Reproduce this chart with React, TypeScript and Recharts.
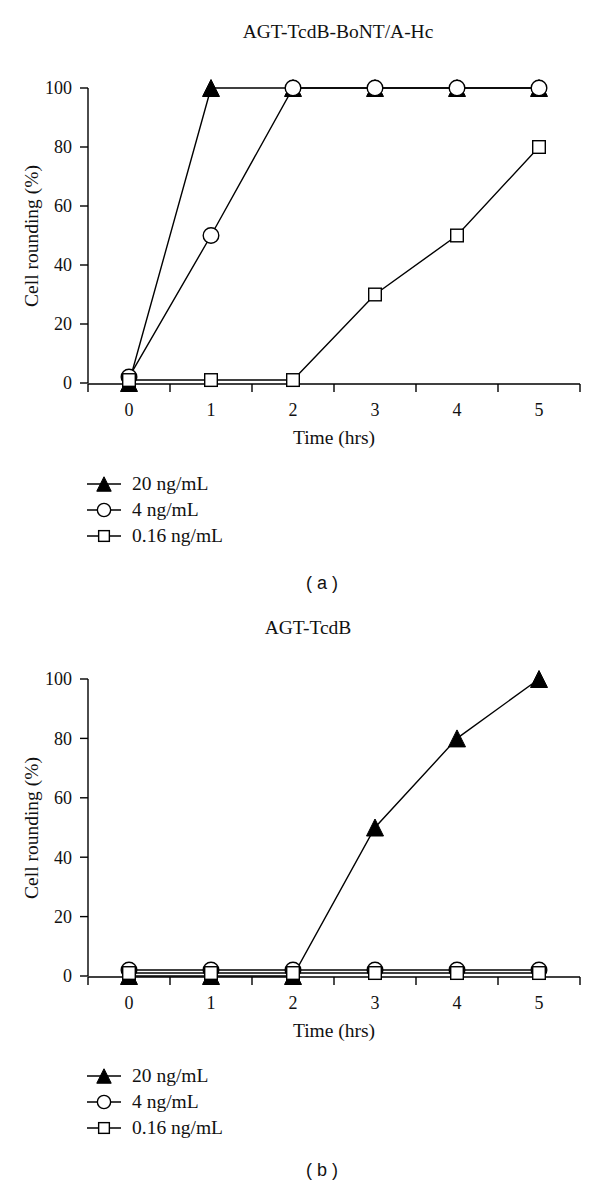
import React from "react";
import { LineChart, Line, XAxis, YAxis, Legend } from "recharts";

// time points (hrs)
const hours = [0, 1, 2, 3, 4, 5];
const yTicks = [0, 20, 40, 60, 80, 100];
const seriesNames = ["20 ng/mL", "4 ng/mL", "0.16 ng/mL"];

// (a) AGT-TcdB-BoNT/A-Hc, cell rounding (%)
const a20 = [0, 100, 100, 100, 100, 100];
const a4 = [2, 50, 100, 100, 100, 100];
const a016 = [1, 1, 1, 30, 50, 80];

// (b) AGT-TcdB
const b20 = [0, 0, 0, 50, 80, 100];
const b4 = [2, 2, 2, 2, 2, 2];
const b016 = [1, 1, 1, 1, 1, 1];

const SERIF = "'Liberation Serif', 'DejaVu Serif', serif";
const SANS = "'Liberation Sans', Arial, sans-serif";

type Shape = "triangle" | "circle" | "square";
const shapes: Shape[] = ["triangle", "circle", "square"];
const keys = ["c20", "c4", "c016"];

function Marker({ shape, cx, cy, s = 1 }: { shape: Shape; cx: number; cy: number; s?: number }) {
  if (shape === "triangle") {
    const w = 8.5 * s;
    const h = 8.5 * s;
    return <polygon points={`${cx},${cy - h} ${cx - w},${cy + h} ${cx + w},${cy + h}`} fill="#000" stroke="#000" strokeWidth={1} />;
  }
  if (shape === "circle") {
    return <circle cx={cx} cy={cy} r={7.8 * s} fill="#fff" stroke="#000" strokeWidth={1.4} />;
  }
  const h = 6.3 * s;
  return <rect x={cx - h} y={cy - h} width={h * 2} height={h * 2} fill="#fff" stroke="#000" strokeWidth={1.4} />;
}

const makeDot = (shape: Shape) => (p: any) => {
  if (p.cx == null || p.cy == null) return <g key={p.index} />;
  return (
    <g key={`${shape}-${p.index}`}>
      <Marker shape={shape} cx={p.cx} cy={p.cy} />
    </g>
  );
};

// tick marks sit between the categories
const halfTicks = [...hours.map((h) => h - 0.5), hours[hours.length - 1] + 0.5];

const TickMark = (p: any) => (
  <line x1={p.x} y1={p.y - 8} x2={p.x} y2={p.y} stroke="#000" strokeWidth={1.4} />
);

function LegendBox({ payload }: any) {
  const items = [...(payload || [])].sort((p, q) => keys.indexOf(p.dataKey) - keys.indexOf(q.dataKey));
  return (
    <div style={{ fontFamily: SERIF, fontSize: 19.5, color: "#111" }}>
      {items.map((entry: any, i: number) => {
        const idx = keys.indexOf(entry.dataKey);
        return (
          <div key={i} style={{ display: "flex", alignItems: "center", height: 26 }}>
            <svg width={36} height={22}>
              <line x1={1} y1={11} x2={35} y2={11} stroke="#000" strokeWidth={1.4} />
              <Marker shape={shapes[idx]} cx={18} cy={11} s={0.85} />
            </svg>
            <span style={{ marginLeft: 10 }}>{entry.value}</span>
          </div>
        );
      })}
    </div>
  );
}

type PanelProps = {
  top: number;
  height: number;
  plotTop: number;
  plotBottom: number;
  v20: number[];
  v4: number[];
  v016: number[];
  title: string;
  titleX: number;
  titleY: number;
  tag: string;
  tagY: number;
};

function Panel({ top, height, plotTop, plotBottom, v20, v4, v016, title, titleX, titleY, tag, tagY }: PanelProps) {
  const data = hours.map((t, i) => ({ t, c20: v20[i], c4: v4[i], c016: v016[i] }));
  const series = [v20, v4, v016];
  const centerY = (plotTop + plotBottom) / 2;
  const text = (s: React.CSSProperties): React.CSSProperties => ({
    position: "absolute",
    transform: "translate(-50%, -50%)",
    whiteSpace: "nowrap",
    lineHeight: "22px",
    color: "#111",
    ...s,
  });
  return (
    <div style={{ position: "absolute", left: 0, top, width: 600, height }}>
      <LineChart
        width={600}
        height={height}
        data={data}
        margin={{ top: plotTop, right: 20, bottom: height - plotBottom - 2, left: 28 }}
      >
        <XAxis
          xAxisId="ticks"
          dataKey="t"
          type="number"
          domain={[-0.5, 5.5]}
          ticks={halfTicks}
          tick={TickMark}
          tickLine={false}
          tickSize={8}
          tickMargin={0}
          height={1}
          stroke="#000"
          strokeWidth={1.4}
        />
        <XAxis
          xAxisId="labels"
          dataKey="t"
          type="number"
          domain={[-0.5, 5.5]}
          ticks={hours}
          axisLine={false}
          tickLine={false}
          tickSize={8}
          tickMargin={12}
          height={1}
          tick={{ fill: "#111", fontSize: 18, fontFamily: SERIF }}
        />
        <YAxis
          domain={[0, 100]}
          ticks={yTicks}
          width={60}
          tickSize={8}
          tickMargin={8}
          stroke="#000"
          strokeWidth={1.4}
          tick={{ fill: "#111", fontSize: 18, fontFamily: SERIF }}
        />
        {series.map((_, i) => (
          <Line
            key={keys[i]}
            xAxisId="labels"
            dataKey={keys[i]}
            name={seriesNames[i]}
            stroke="#000"
            strokeWidth={1.4}
            dot={makeDot(shapes[i])}
            activeDot={false}
            isAnimationActive={false}
          />
        ))}
        <Legend
          layout="vertical"
          align="center"
          verticalAlign="middle"
          content={<LegendBox />}
          wrapperStyle={{ left: 86, top: 471, width: 240, height: 80 }}
        />
      </LineChart>
      <div style={text({ left: titleX, top: titleY, fontFamily: SERIF, fontSize: 19.5 })}>{title}</div>
      <div style={text({ left: 32, top: centerY, fontFamily: SERIF, fontSize: 19.5, transform: "translate(-50%, -50%) rotate(-90deg)" })}>
        Cell rounding (%)
      </div>
      <div style={text({ left: 334, top: plotBottom + 55, fontFamily: SERIF, fontSize: 19.5 })}>Time (hrs)</div>
      <div style={text({ left: 322, top: tagY, fontFamily: SANS, fontSize: 18 })}>{tag}</div>
    </div>
  );
}

export default function App() {
  return (
    <div style={{ position: "absolute", left: 0, top: 0, width: 600, height: 1185, background: "#fff" }}>
      <Panel top={0} height={592} plotTop={88} plotBottom={383} v20={a20} v4={a4} v016={a016}
        title="AGT-TcdB-BoNT/A-Hc" titleX={338} titleY={32} tag="( a )" tagY={583} />
      <Panel top={592} height={593} plotTop={87} plotBottom={384} v20={b20} v4={b4} v016={b016}
        title="AGT-TcdB" titleX={308} titleY={36} tag="( b )" tagY={578} />
    </div>
  );
}
